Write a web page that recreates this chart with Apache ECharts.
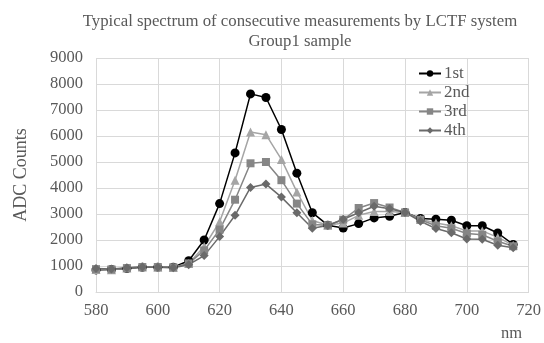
<!DOCTYPE html>
<html>
<head>
<meta charset="utf-8">
<script src="https://cdn.jsdelivr.net/npm/echarts@6/dist/echarts.min.js"></script>
<style>
  html, body { margin: 0; padding: 0; background: #fff; }
  #chart { width: 544px; height: 343px; }
</style>
</head>
<body>
<div id="chart"></div>
<script>
// wavelengths (nm)
const wavelengths = [580, 585, 590, 595, 600, 605, 610, 615, 620, 625, 630, 635, 640, 645,
  650, 655, 660, 665, 670, 675, 680, 685, 690, 695, 700, 705, 710, 715];

// ADC counts per measurement
const first = [850, 870, 900, 950, 950, 950, 1200, 2000, 3400, 5350, 7620, 7480, 6250, 4570,
  3050, 2570, 2460, 2630, 2850, 2910, 3060, 2830, 2800, 2760, 2550, 2550, 2270, 1830];
const second = [870, 860, 920, 960, 950, 940, 1100, 1750, 2700, 4300, 6150, 6050, 5100, 3850,
  2750, 2570, 2650, 2950, 3100, 3100, 3060, 2800, 2650, 2550, 2350, 2350, 2100, 1800];
const third = [880, 870, 920, 960, 960, 950, 1100, 1600, 2400, 3550, 4950, 5000, 4300, 3400,
  2600, 2570, 2780, 3230, 3420, 3250, 3060, 2780, 2550, 2450, 2250, 2200, 1950, 1760];
const fourth = [900, 880, 930, 960, 950, 930, 1050, 1400, 2130, 2950, 4020, 4150, 3650, 3050,
  2450, 2560, 2800, 3050, 3300, 3200, 3060, 2720, 2440, 2280, 2040, 2030, 1800, 1700];

const seriesNames = ['1st', '2nd', '3rd', '4th'];
const font = 'Liberation Serif';
const textColor = '#595959';

const pairs = (ys) => wavelengths.map((x, i) => [x, ys[i]]);

function lineSeries(name, ys, color, symbol, size) {
  return {
    name: name,
    type: 'line',
    data: pairs(ys),
    symbol: symbol,
    symbolSize: size,
    lineStyle: { color: color, width: 1.5 },
    itemStyle: { color: color },
    animation: false
  };
}

const chart = echarts.init(document.getElementById('chart'));
chart.setOption({
  backgroundColor: '#fff',
  title: {
    text: 'Typical spectrum of consecutive measurements by LCTF system\nGroup1 sample',
    left: 295,
    top: 7,
    textAlign: 'center',
    textStyle: {
      fontFamily: font,
      fontSize: 16.8,
      fontWeight: 'normal',
      color: textColor,
      lineHeight: 20
    }
  },
  legend: {
    orient: 'vertical',
    left: 413,
    top: 60,
    itemWidth: 22,
    itemHeight: 8,
    itemGap: 2,
    data: seriesNames,
    textStyle: { fontFamily: font, fontSize: 17, color: textColor, padding: [0, 0, 0, -2] }
  },
  grid: {
    left: 96,
    right: 12,
    top: 58,
    bottom: 51
  },
  xAxis: {
    type: 'value',
    min: 580,
    max: 720,
    interval: 20,
    axisLine: { lineStyle: { color: '#d9d9d9' } },
    axisTick: { show: false },
    axisLabel: { fontFamily: font, fontSize: 16.5, color: textColor, margin: 10 },
    splitLine: { lineStyle: { color: '#d9d9d9' } }
  },
  yAxis: {
    type: 'value',
    min: 0,
    max: 9000,
    interval: 1000,
    name: 'ADC Counts',
    nameLocation: 'middle',
    nameGap: 66,
    nameTextStyle: { fontFamily: font, fontSize: 18, color: textColor },
    axisLine: { show: false },
    axisTick: { show: false },
    axisLabel: {
      fontFamily: font, fontSize: 16.5, color: textColor, margin: 13,
      formatter: (v) => String(v)
    },
    splitLine: { lineStyle: { color: '#d9d9d9' } }
  },
  graphic: [{
    type: 'text',
    left: 501,
    top: 325,
    style: { text: 'nm', font: '16.5px "Liberation Serif"', fill: textColor }
  }],
  series: [
    lineSeries('1st', first, '#000000', 'circle', 9),
    lineSeries('2nd', second, '#a5a5a5', 'triangle', 9),
    lineSeries('3rd', third, '#868686', 'rect', 8),
    lineSeries('4th', fourth, '#6a6a6a', 'diamond', 9)
  ]
});
</script>
</body>
</html>
